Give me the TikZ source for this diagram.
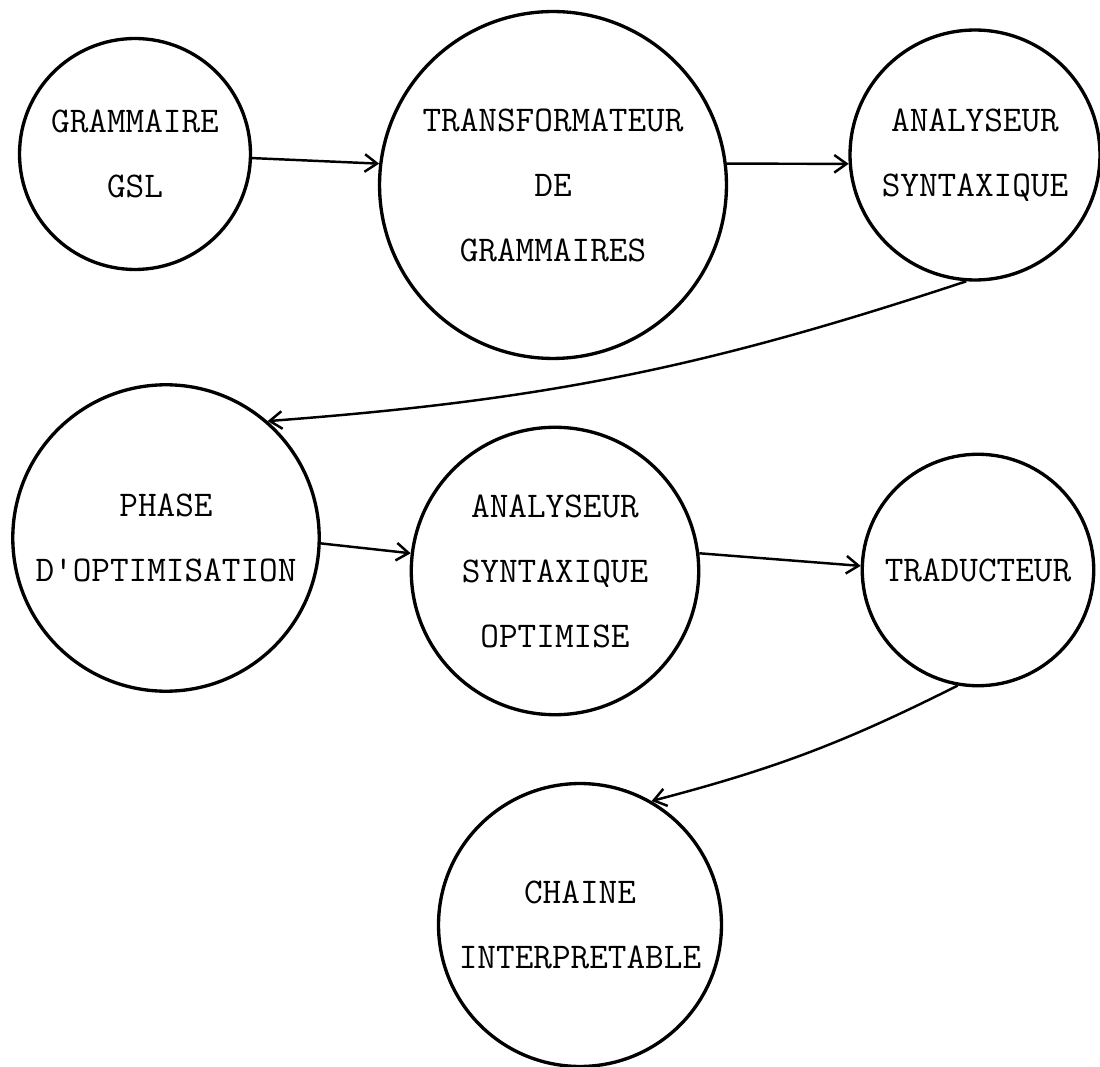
\documentclass[tikz,border=0pt]{standalone}
\usepackage{fontspec}
\usepackage{tikz}
\usetikzlibrary{arrows.meta}

\tikzset{
  etat/.style={circle, draw, line width=1.9pt, inner sep=0pt, align=center,
    font=\ttfamily\fontsize{20.6}{37}\selectfont},
  fleche/.style={-{Straight Barb[length=7pt,width=10pt]}, line width=1.4pt}
}

\begin{document}
\begin{tikzpicture}[x=0.02cm, y=-0.02cm]
    \useasboundingbox (0,0) rectangle (1100,1067);
    \node[etat, minimum size=4.62cm] (gram) at (135,154) {GRAMMAIRE\\GSL};
    \node[etat, minimum size=6.94cm] (transf) at (553,185) {TRANSFORMATEUR\\DE\\GRAMMAIRES};
    \node[etat, minimum size=5.0cm] (anal) at (975,155) {ANALYSEUR\\SYNTAXIQUE};
    \node[etat, minimum size=6.13cm] (phase) at (166,538) {PHASE\\D'OPTIMISATION};
    \node[etat, minimum size=5.75cm] (anopt) at (555,571) {ANALYSEUR\\SYNTAXIQUE\\OPTIMISE};
    \node[etat, minimum size=4.63cm] (trad) at (978,570) {TRADUCTEUR};
    \node[etat, minimum size=5.66cm] (chaine) at (580,925) {CHAINE\\INTERPRETABLE};
    \draw[fleche] (gram.-2) -- (transf.173);
    \draw[fleche] (transf.7) -- (anal.184);
    \draw[fleche] (anal.266) to[bend left=7] (phase.49);
    \draw[fleche] (phase.-2) -- (anopt.173);
    \draw[fleche] (anopt.7) -- (trad.178);
    \draw[fleche] (trad.260) to[bend left=6] (chaine.60);
\end{tikzpicture}
\end{document}
